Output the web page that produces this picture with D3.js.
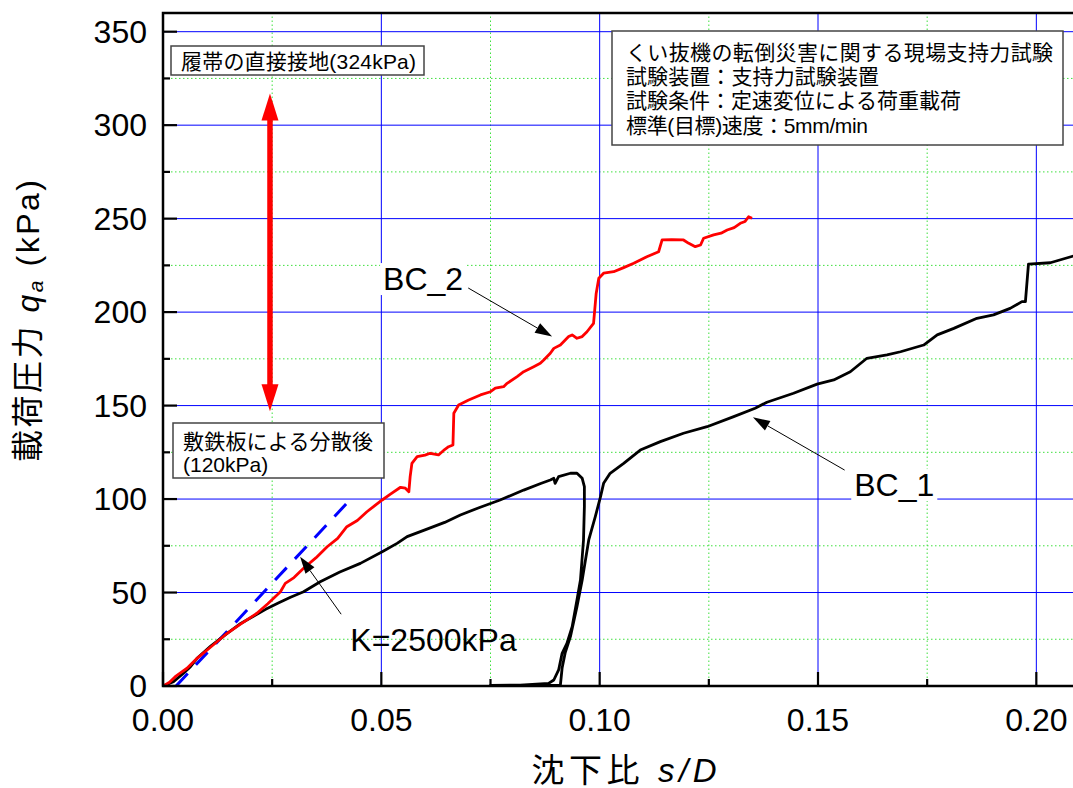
<!DOCTYPE html>
<html>
<head>
<meta charset="utf-8">
<title>現場支持力試験</title>
<style>
  body { margin: 0; background: #fff; }
  svg { display: block; }
  text { font-family: "Liberation Sans", "Noto Sans CJK JP", sans-serif; fill: #000; }
  .grid-major line { stroke: #0000ff; stroke-width: 1; }
  .grid-minor line { stroke: #3ee03e; stroke-width: 1; stroke-dasharray: 1.5,2.5; }
  .tick-label { font-size: 32px; }
  .note { font-size: 21px; }
  .curve { fill: none; stroke-width: 2.8; stroke-linejoin: round; }
</style>
<script src="https://d3js.org/d3.v7.min.js"></script>
</head>
<body>
<div id="chart"></div>
<script>
// axis ticks
const xTicks = [0, 0.05, 0.10, 0.15, 0.20];
const xMinorTicks = [0.025, 0.075, 0.125, 0.175];
const yTicks = [0, 50, 100, 150, 200, 250, 300, 350];
const yMinorTicks = [25, 75, 125, 175, 225, 275, 325];

// BC_2 (red) : [s/D, qa]
const bc2 = [
  [0, 0], [0.0015, 2], [0.0028, 5], [0.004, 7], [0.0055, 9.5], [0.0078, 14.8],
  [0.011, 21], [0.0147, 28.2], [0.018, 33.5], [0.0215, 38.9], [0.024, 44],
  [0.0269, 50.4], [0.028, 54.9], [0.030, 58], [0.0322, 63.0], [0.035, 68.5],
  [0.0376, 74.5], [0.040, 79], [0.0421, 85.2], [0.0445, 88.5], [0.0467, 93.2],
  [0.0485, 96.5], [0.0502, 99.5], [0.052, 102.5], [0.0544, 106.3], [0.0555, 105.8],
  [0.0563, 103.9], [0.0566, 112], [0.0570, 119.1], [0.0582, 122.7], [0.060, 123.5],
  [0.0612, 124.5], [0.0631, 123.6], [0.0645, 126.5], [0.0654, 128.0], [0.0664, 128.9],
  [0.0666, 145.9], [0.0677, 150.3], [0.070, 153], [0.0727, 155.7], [0.0750, 157.4],
  [0.0761, 159.3], [0.0780, 160.1], [0.0788, 161.9], [0.0811, 165.5], [0.0826, 168.1],
  [0.0849, 170.8], [0.0864, 172.6], [0.0872, 174.4], [0.0887, 178.0], [0.0895, 180.6],
  [0.0910, 182.4], [0.0929, 186.9], [0.0937, 187.8], [0.0948, 186.0], [0.0960, 186.9],
  [0.0971, 189.5], [0.0986, 194.0], [0.0992, 210],
  [0.0998, 218.1], [0.1009, 220.8], [0.1032, 221.6], [0.1055, 223.8], [0.1078, 226.1],
  [0.1108, 229.6], [0.1135, 232.3], [0.1143, 238.6], [0.1165, 238.8], [0.1192, 238.6],
  [0.1204, 236.8], [0.1219, 235.0], [0.1231, 235.9], [0.1238, 239.5], [0.1261, 241.3],
  [0.1278, 242.2], [0.1292, 243.9], [0.1308, 245.2], [0.1322, 247.5], [0.1333, 248.5],
  [0.1341, 251.0], [0.1349, 250.2]
];

// BC_1 (black) : [s/D, qa]
const bc1 = [
  [0, 0], [0.0024, 2.3], [0.0045, 6.5], [0.0063, 10.3], [0.0078, 14.8], [0.011, 21.5],
  [0.0147, 28.2], [0.0175, 33], [0.0208, 37.4], [0.0235, 41], [0.0264, 44.4],
  [0.0292, 47.5], [0.0322, 50.4], [0.036, 55.8], [0.0405, 61], [0.0452, 65.6],
  [0.0502, 71.8], [0.0536, 76.3], [0.0559, 79.9], [0.060, 83.5], [0.0645, 87.5],
  [0.0681, 91.5], [0.0725, 95.5], [0.0772, 99.5], [0.0826, 104.8], [0.0865, 108.3],
  [0.0887, 110.2], [0.0895, 111.1], [0.0898, 108.4], [0.0906, 112.0], [0.0933, 113.8],
  [0.0948, 113.8], [0.0960, 111.1], [0.0965, 106.6], [0.0965, 95.9], [0.0963, 78.1],
  [0.0956, 56.7], [0.0948, 46.0], [0.0937, 31.7], [0.0925, 22.8], [0.0914, 17.5],
  [0.0906, 8.6], [0.0895, 3.2], [0.0883, 1.4], [0.0818, 0.5], [0.0750, 0.3],
  [0.0910, 0.4], [0.0914, 9.6], [0.0921, 17.7], [0.0933, 26.4], [0.0948, 42.4],
  [0.0960, 56.7], [0.0975, 78.1], [0.0990, 90.6], [0.1002, 101.3], [0.1009, 108.4],
  [0.1024, 113.8], [0.1055, 119.1], [0.1093, 126.2], [0.1139, 130.7], [0.1192, 135.2],
  [0.1246, 138.7], [0.1307, 144.1], [0.1356, 148.6], [0.1383, 151.8], [0.1444, 156.6],
  [0.1498, 161.5], [0.1536, 163.7], [0.1574, 168.1], [0.1612, 175.3], [0.1658, 177.1],
  [0.1689, 178.8], [0.1742, 182.4], [0.1773, 187.8], [0.1811, 191.3], [0.1864, 196.7],
  [0.1902, 198.5], [0.1940, 202.0], [0.1967, 205.6], [0.1975, 205.6], [0.1982, 225.7],
  [0.2032, 226.4], [0.2085, 230.0]
];

// K = 2500 kPa reference line
const kLine = [[0.003, 0], [0.043, 100]];

// 履帯の直接接地 -> 敷鉄板による分散後
const loadArrow = { s: 0.0245, top: 317, bottom: 147 };

const width = 1073;
const height = 788;
const margin = { top: 13, left: 163 };
const plotW = 917;
const plotH = 673;

const x = d3.scaleLinear().domain([0, 0.21]).range([margin.left, margin.left + plotW]);
const y = d3.scaleLinear().domain([0, 360]).range([margin.top + plotH, margin.top]);

const svg = d3.select("#chart")
  .append("svg")
  .attr("width", width)
  .attr("height", height);

svg.append("defs").append("clipPath").attr("id", "plot-clip")
  .append("rect")
  .attr("x", margin.left).attr("y", margin.top)
  .attr("width", plotW).attr("height", plotH);

// grid
const gMinor = svg.append("g").attr("class", "grid-minor");
gMinor.selectAll(".vx").data(xMinorTicks).enter().append("line")
  .attr("x1", d => x(d)).attr("x2", d => x(d))
  .attr("y1", y(0)).attr("y2", y(360));
gMinor.selectAll(".hy").data(yMinorTicks).enter().append("line")
  .attr("x1", x(0)).attr("x2", x(0.21))
  .attr("y1", d => y(d)).attr("y2", d => y(d));

const gMajor = svg.append("g").attr("class", "grid-major");
gMajor.selectAll(".vx").data(xTicks.slice(1)).enter().append("line")
  .attr("x1", d => x(d)).attr("x2", d => x(d))
  .attr("y1", y(0)).attr("y2", y(360));
gMajor.selectAll(".hy").data(yTicks.slice(1)).enter().append("line")
  .attr("x1", x(0)).attr("x2", x(0.21))
  .attr("y1", d => y(d)).attr("y2", d => y(d));

const line = d3.line().x(d => x(d[0])).y(d => y(d[1]));
const plot = svg.append("g").attr("clip-path", "url(#plot-clip)");

plot.append("path")
  .datum(kLine)
  .attr("d", line)
  .attr("fill", "none")
  .attr("stroke", "#0000ff")
  .attr("stroke-width", 3)
  .attr("stroke-dasharray", "17,12");

plot.append("path")
  .datum(bc1)
  .attr("class", "curve")
  .attr("stroke", "#000")
  .attr("d", line);

plot.append("path")
  .datum(bc2)
  .attr("class", "curve")
  .attr("stroke", "#ff0000")
  .attr("d", line);

// frame
svg.append("rect")
  .attr("x", margin.left).attr("y", margin.top)
  .attr("width", plotW).attr("height", plotH)
  .attr("fill", "none").attr("stroke", "#000").attr("stroke-width", 2.5);

// ticks (inside)
const axisG = svg.append("g").attr("stroke", "#000").attr("stroke-width", 2.2);
axisG.selectAll(".xt").data(xTicks).enter().append("line")
  .attr("x1", d => x(d)).attr("x2", d => x(d))
  .attr("y1", y(0)).attr("y2", y(0) - 14);
axisG.selectAll(".xm").data(xMinorTicks).enter().append("line")
  .attr("x1", d => x(d)).attr("x2", d => x(d))
  .attr("y1", y(0)).attr("y2", y(0) - 7);
axisG.selectAll(".yt").data(yTicks).enter().append("line")
  .attr("x1", x(0)).attr("x2", x(0) + 14)
  .attr("y1", d => y(d)).attr("y2", d => y(d));
axisG.selectAll(".ym").data(yMinorTicks).enter().append("line")
  .attr("x1", x(0)).attr("x2", x(0) + 7)
  .attr("y1", d => y(d)).attr("y2", d => y(d));

svg.selectAll(".xl").data(xTicks).enter().append("text")
  .attr("class", "tick-label")
  .attr("x", d => x(d)).attr("y", y(0) + 34)
  .attr("text-anchor", "middle")
  .attr("dominant-baseline", "central")
  .text(d => d.toFixed(2));

svg.selectAll(".yl").data(yTicks).enter().append("text")
  .attr("class", "tick-label")
  .attr("x", x(0) - 16).attr("y", d => y(d))
  .attr("text-anchor", "end")
  .attr("dominant-baseline", "central")
  .text(d => d);

// axis titles
const xTitle = svg.append("text")
  .attr("x", 624).attr("y", 770)
  .attr("text-anchor", "middle")
  .attr("dominant-baseline", "central")
  .attr("font-size", 33)
  .attr("textLength", 185).attr("lengthAdjust", "spacing");
xTitle.append("tspan").text("沈下比 ");
xTitle.append("tspan").attr("font-style", "italic").text("s/D");

const yTitle = svg.append("text")
  .attr("transform", "translate(28,321) rotate(-90)")
  .attr("text-anchor", "middle")
  .attr("dominant-baseline", "central")
  .attr("font-size", 32)
  .attr("textLength", 282).attr("lengthAdjust", "spacing");
yTitle.append("tspan").text("載荷圧力 ");
yTitle.append("tspan").attr("font-style", "italic").text("q");
yTitle.append("tspan").attr("font-style", "italic").attr("font-size", 21).attr("dy", 7).text("a");
yTitle.append("tspan").attr("dy", -7).text(" (kPa)");

// red double arrow
const ax = x(loadArrow.s);
const yTop = y(loadArrow.top), yBot = y(loadArrow.bottom);
const headL = 27, headW = 8.5;
svg.append("line")
  .attr("x1", ax).attr("x2", ax)
  .attr("y1", yTop + headL - 2).attr("y2", yBot - headL + 2)
  .attr("stroke", "#ff0000").attr("stroke-width", 5.5);
svg.append("path")
  .attr("fill", "#ff0000")
  .attr("d", `M${ax},${yTop}L${ax - headW},${yTop + headL}L${ax + headW},${yTop + headL}Z`);
svg.append("path")
  .attr("fill", "#ff0000")
  .attr("d", `M${ax},${yBot}L${ax - headW},${yBot - headL}L${ax + headW},${yBot - headL}Z`);

// thin annotation arrows
function arrow(from, to) {
  const x1 = x(from[0]), y1 = y(from[1]), x2 = x(to[0]), y2 = y(to[1]);
  const ang = Math.atan2(y2 - y1, x2 - x1);
  const L = 17, W = 5.5;
  const bx = x2 - L * Math.cos(ang), by = y2 - L * Math.sin(ang);
  svg.append("line")
    .attr("x1", x1).attr("y1", y1).attr("x2", bx).attr("y2", by)
    .attr("stroke", "#000").attr("stroke-width", 1);
  svg.append("path")
    .attr("fill", "#000")
    .attr("d", `M${x2},${y2}L${bx - W * Math.sin(ang)},${by + W * Math.cos(ang)}L${bx + W * Math.sin(ang)},${by - W * Math.cos(ang)}Z`);
}
arrow([0.0699, 212.9], [0.0891, 186.9]);
arrow([0.1561, 115.5], [0.1351, 143.7]);
arrow([0.0408, 38.4], [0.0314, 69.2]);

// curve labels
function label(txt, pos, bg) {
  const t = svg.append("text")
    .attr("x", x(pos[0])).attr("y", y(pos[1]))
    .attr("font-size", 32)
    .text(txt);
  if (bg) {
    const b = t.node().getBBox();
    svg.insert("rect", () => t.node())
      .attr("x", b.x - 3).attr("y", b.y + 2)
      .attr("width", b.width + 6).attr("height", b.height - 4)
      .attr("fill", "#fff");
  }
}
label("BC_2", [0.0504, 211.8], true);
label("BC_1", [0.1583, 101.6], true);
label("K=2500kPa", [0.0429, 18.9], false);

// note boxes
function noteBox(bx, by, bw, bh, lines) {
  svg.append("rect")
    .attr("x", bx).attr("y", by).attr("width", bw).attr("height", bh)
    .attr("fill", "#fff").attr("stroke", "#444").attr("stroke-width", 1.5);
  lines.forEach(l => {
    const t = svg.append("text")
      .attr("class", "note")
      .attr("x", l.x).attr("y", l.y)
      .attr("dominant-baseline", "central")
      .text(l.t);
    if (l.w) t.attr("textLength", l.w).attr("lengthAdjust", "spacing");
  });
}
noteBox(171, 46, 253, 29, [
  { t: "履帯の直接接地(324kPa)", x: 181, y: 61.3, w: 235 }
]);
noteBox(612, 31, 451, 114, [
  { t: "くい抜機の転倒災害に関する現場支持力試験", x: 626, y: 52.5, w: 427 },
  { t: "試験装置：支持力試験装置", x: 626, y: 76.7, w: 253 },
  { t: "試験条件：定速変位による荷重載荷", x: 626, y: 100.8, w: 335 },
  { t: "標準(目標)速度：5mm/min", x: 626, y: 125.3, w: 242 }
]);
noteBox(173, 423, 211, 55, [
  { t: "敷鉄板による分散後", x: 183, y: 441.7, w: 190 },
  { t: "(120kPa)", x: 183, y: 464 }
]);
</script>
</body>
</html>
